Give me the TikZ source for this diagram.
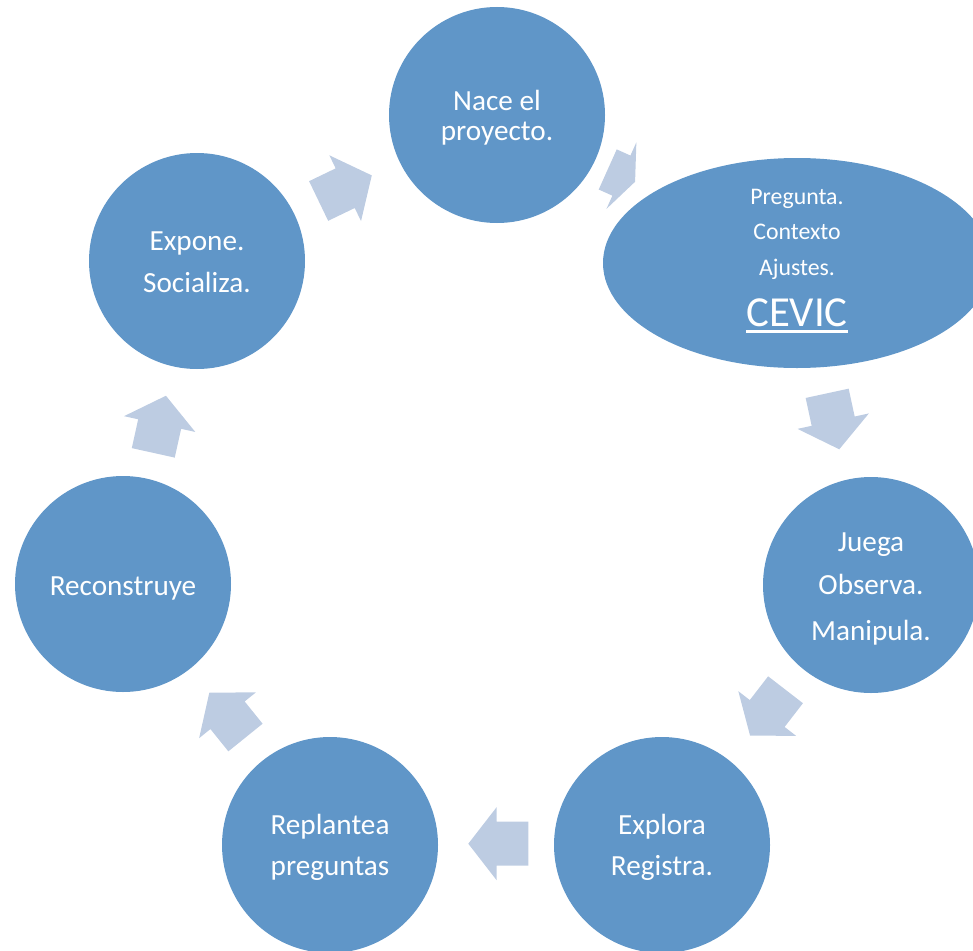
\documentclass[tikz,border=0pt]{standalone}
\usepackage{fontspec}
\setmainfont{Carlito}
\usetikzlibrary{shapes.geometric}
\definecolor{circblue}{RGB}{96,150,200}
\definecolor{arrowblue}{RGB}{189,204,226}
\newcommand{\blockarr}[4]{%
  \path[cyclearrow, shift={(#1)}, rotate=#2]
    ({-0.5*#3},-22) -- ({0.5*#3-#4},-22) -- ({0.5*#3-#4},-36.5) -- ({0.5*#3},0)
    -- ({0.5*#3-#4},36.5) -- ({0.5*#3-#4},22) -- ({-0.5*#3},22) -- cycle;}
\begin{document}
\begin{tikzpicture}[x=1pt,y=-1pt,
  stage/.style={circle, fill=circblue, minimum size=216pt, inner sep=0pt},
  lbl/.style={text=white, anchor=base, inner sep=0pt, font=\fontsize{29.2}{30}\selectfont},
  smalllbl/.style={text=white, anchor=base, inner sep=0pt, font=\fontsize{23.8}{25}\selectfont},
  biglbl/.style={text=white, anchor=base, inner sep=0pt, font=\fontsize{42.8}{44}\selectfont},
  cyclearrow/.style={fill=arrowblue}]
\useasboundingbox (0,0) rectangle (973,950);
\clip (0,0) rectangle (973,950);

% stages
\node[stage] (nace) at (497,115) {};
\node[ellipse, fill=circblue, minimum width=388pt, minimum height=210pt, inner sep=0pt] (pregunta) at (797,263) {};
\node[stage] (juega) at (871,585) {};
\node[stage] (explora) at (662,845) {};
\node[stage] (replantea) at (330,845) {};
\node[stage] (reconstruye) at (123,584) {};
\node[stage] (expone) at (197,261) {};

% labels
\node[lbl] (t1a) at (497,110.7) {Nace el};
\node[lbl] (t1b) at (497,140) {proyecto.};
\node[smalllbl] (t2a) at (797,204.3) {Pregunta.};
\node[smalllbl] (t2b) at (797,239.3) {Contexto};
\node[smalllbl] (t2c) at (797,275) {Ajustes.};
\node[biglbl] (cevic) at (797,326.7) {CEVIC};
\draw[white, line width=2.8pt] ([yshift=-5pt]cevic.base west) -- ([yshift=-5pt]cevic.base east);
\node[lbl] (t3a) at (871,551.7) {Juega};
\node[lbl] (t3b) at (871,594) {Observa.};
\node[lbl] (t3c) at (871,640) {Manipula.};
\node[lbl] (t4a) at (662,834) {Explora};
\node[lbl] (t4b) at (662,875) {Registra.};
\node[lbl] (t5a) at (330,834) {Replantea};
\node[lbl] (t5b) at (330,875) {preguntas};
\node[lbl] (t6a) at (123,595) {Reconstruye};
\node[lbl] (t7a) at (197,250) {Expone.};
\node[lbl] (t7b) at (197,292) {Socializa.};

% cycle arrows
\coordinate (a1) at (345.2,188.2);
\coordinate (a2) at (621.4,175.6);
\coordinate (a3) at (833.2,421.3);
\coordinate (a4) at (767.8,712.7);
\coordinate (a5) at (498.3,843.7);
\coordinate (a6) at (227.4,715.1);
\coordinate (a7) at (159.6,424.3);
\blockarr{a1}{25.7}{59}{29.5}
\blockarr{a2}{-24.2}{30}{15}
\blockarr{a3}{-77.8}{57.3}{28.8}
\blockarr{a4}{232.3}{58}{28}
\blockarr{a5}{180}{60}{28.3}
\blockarr{a6}{128.9}{57.6}{29}
\blockarr{a7}{77.5}{58.5}{29}
\end{tikzpicture}
\end{document}
